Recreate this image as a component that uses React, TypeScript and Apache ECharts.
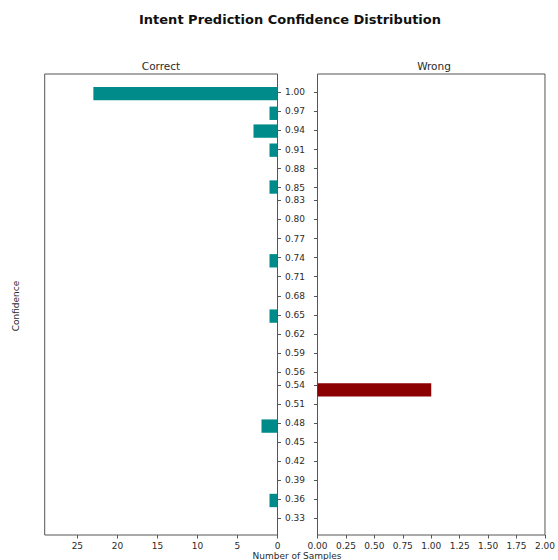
import React, { useEffect, useRef } from "react";
import * as echarts from "echarts";

// Confidence tick values shared by both panels
const confidenceTicks = [
  1.0, 0.97, 0.94, 0.91, 0.88, 0.85, 0.83, 0.8, 0.77, 0.74, 0.71, 0.68, 0.65,
  0.62, 0.59, 0.56, 0.54, 0.51, 0.48, 0.45, 0.42, 0.39, 0.36, 0.33,
];

// Correct predictions: confidence of each bar and its sample count
const correctConfidence = [0.998, 0.967, 0.939, 0.909, 0.851, 0.735, 0.648, 0.475, 0.358];
const correctCounts = [23, 1, 3, 1, 1, 1, 1, 2, 1];

// Wrong predictions
const wrongConfidence = [0.532];
const wrongCounts = [1];

const correctTicks = [0, 5, 10, 15, 20, 25];
const wrongTicks = [0, 0.25, 0.5, 0.75, 1.0, 1.25, 1.5, 1.75, 2.0];

const BAR_HEIGHT = 0.021;
const Y_MIN = 0.3037;
const Y_MAX = 1.0288;

const FONT = "DejaVu Sans";
const TEXT = "#2b2b2b";
const FRAME = "#555555";

function barRenderer(color: string) {
  return (params: any, api: any) => {
    const count = api.value(0);
    const conf = api.value(1);
    const p0 = api.coord([0, conf]);
    const p1 = api.coord([count, conf]);
    const h = api.size([0, BAR_HEIGHT])[1];
    return {
      type: "rect",
      shape: {
        x: Math.min(p0[0], p1[0]),
        y: p0[1] - h / 2,
        width: Math.abs(p1[0] - p0[0]),
        height: h,
      },
      style: { fill: color },
    };
  };
}

export default function App() {
  const ref = useRef<HTMLDivElement>(null);

  useEffect(() => {
    if (!ref.current) return;
    const chart = echarts.init(ref.current, null, { renderer: "svg" });

    const tickLabel = { fontFamily: FONT, fontSize: 9, color: TEXT };

    const option: any = {
      animation: false,
      backgroundColor: "#ffffff",
      graphic: [
        {
          type: "text",
          x: 290,
          y: 19,
          style: {
            text: "Intent Prediction Confidence Distribution",
            fontFamily: FONT,
            fontWeight: "bold",
            fontSize: 13,
            fill: "#111",
            textAlign: "center",
            textVerticalAlign: "middle",
          },
        },
        {
          type: "text",
          x: 161,
          y: 65.5,
          style: {
            text: "Correct",
            fontFamily: FONT,
            fontSize: 10.5,
            fill: TEXT,
            textAlign: "center",
            textVerticalAlign: "middle",
          },
        },
        {
          type: "text",
          x: 434,
          y: 65.5,
          style: {
            text: "Wrong",
            fontFamily: FONT,
            fontSize: 10.5,
            fill: TEXT,
            textAlign: "center",
            textVerticalAlign: "middle",
          },
        },
        {
          type: "text",
          x: 297,
          y: 556,
          style: {
            text: "Number of Samples",
            fontFamily: FONT,
            fontSize: 9,
            fill: TEXT,
            textAlign: "center",
            textVerticalAlign: "middle",
          },
        },
        {
          type: "text",
          x: 16,
          y: 306,
          rotation: Math.PI / 2,
          style: {
            text: "Confidence",
            fontFamily: FONT,
            fontSize: 9,
            fill: TEXT,
            textAlign: "center",
            textVerticalAlign: "middle",
          },
        },
      ],
      grid: [
        { left: 44.7, top: 74, width: 232.8, height: 461, show: true, borderColor: FRAME, borderWidth: 1, backgroundColor: "transparent" },
        { left: 317.5, top: 74, width: 232.5, height: 461, show: true, borderColor: FRAME, borderWidth: 1, backgroundColor: "transparent" },
      ],
      xAxis: [
        {
          type: "value",
          gridIndex: 0,
          min: 0,
          max: 29.08,
          inverse: true,
          splitLine: { show: false },
          axisLine: { show: false },
          axisTick: { show: true, length: 3.5, customValues: correctTicks, lineStyle: { color: FRAME } },
          axisLabel: { ...tickLabel, margin: 6, customValues: correctTicks, formatter: (v: number) => String(v) },
        },
        {
          type: "value",
          gridIndex: 1,
          min: 0,
          max: 2,
          splitLine: { show: false },
          axisLine: { show: false },
          axisTick: { show: true, length: 3.5, customValues: wrongTicks, lineStyle: { color: FRAME } },
          axisLabel: { ...tickLabel, margin: 6, customValues: wrongTicks, formatter: (v: number) => v.toFixed(2), showMaxLabel: true },
        },
      ],
      yAxis: [
        {
          type: "value",
          gridIndex: 0,
          position: "right",
          min: Y_MIN,
          max: Y_MAX,
          splitLine: { show: false },
          axisLine: { show: false },
          axisTick: { show: true, length: 3.5, customValues: confidenceTicks, lineStyle: { color: FRAME } },
          axisLabel: { ...tickLabel, margin: 7.5, align: "left", customValues: confidenceTicks, formatter: (v: number) => v.toFixed(2) },
        },
        {
          type: "value",
          gridIndex: 1,
          position: "left",
          min: Y_MIN,
          max: Y_MAX,
          splitLine: { show: false },
          axisLine: { show: false },
          axisTick: { show: true, length: 3.5, customValues: confidenceTicks, lineStyle: { color: FRAME } },
          axisLabel: { show: false },
        },
      ],
      series: [
        {
          type: "custom",
          name: "Correct",
          xAxisIndex: 0,
          yAxisIndex: 0,
          encode: { x: 0, y: 1 },
          data: correctCounts.map((c, i) => [c, correctConfidence[i]]),
          renderItem: barRenderer("#008b8b"),
        },
        {
          type: "custom",
          name: "Wrong",
          xAxisIndex: 1,
          yAxisIndex: 1,
          encode: { x: 0, y: 1 },
          data: wrongCounts.map((c, i) => [c, wrongConfidence[i]]),
          renderItem: barRenderer("#8b0000"),
        },
      ],
    };

    chart.setOption(option);
    return () => chart.dispose();
  }, []);

  return (
    <div
      ref={ref}
      style={{ position: "fixed", left: 0, top: 0, width: 558, height: 560, background: "#fff" }}
    />
  );
}
